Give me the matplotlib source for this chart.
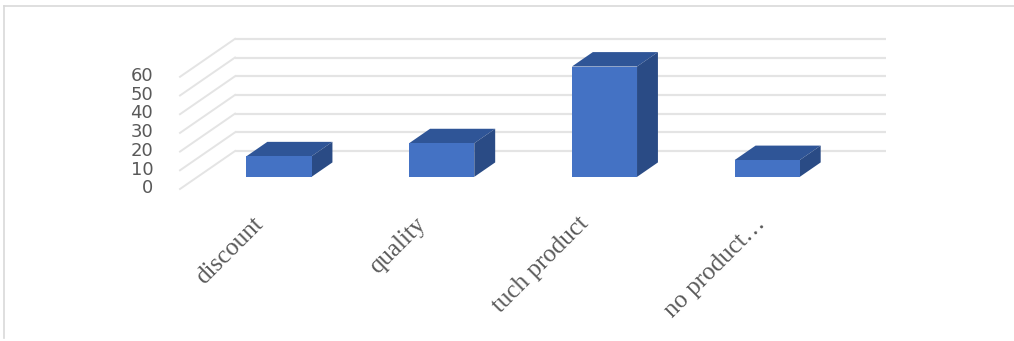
import matplotlib
matplotlib.use("Agg")
import matplotlib.pyplot as plt
from matplotlib.patches import Polygon
from matplotlib.lines import Line2D

categories = ["discount", "quality", "tuch product", "no product…"]
values = [11, 18, 59, 9]
y_ticks = [0, 10, 20, 30, 40, 50, 60]

# oblique projection of the 3-D box: shift per unit of depth
DX = 0.338   # in category units
DY = 20.3    # in value units
D0, D1 = 0.32, 0.70   # depth span occupied by the bars
BAR_W = 0.40

front_col = "#4472C4"
top_col = "#2F5597"
side_col = "#2A4B85"
grid_col = "#e4e4e4"
text_col = "#595959"

fig = plt.figure(figsize=(10.14, 3.41), dpi=100)
ax = fig.add_axes([0, 0, 1, 1])
ax.set_xlim(-180 / 162.75, (1014 - 180) / 162.75)
ax.set_ylim((189 - 341) / 1.87, 189 / 1.87)
ax.axis("off")

n = len(categories)

# gridlines: back wall and left wall
for v in y_ticks:
    ax.plot([DX, n + DX], [v + DY, v + DY], color=grid_col, lw=1.6, zorder=1,
            solid_capstyle="butt")
    ax.plot([0, DX], [v, v + DY], color=grid_col, lw=1.4, zorder=1)
    ax.text(-0.165, v + 0.4, str(v), ha="right", va="center", fontsize=13,
            color=text_col, family="DejaVu Sans")

# bars: front faces
centers = [i + 0.5 + D0 * DX for i in range(n)]
ax.bar(centers, values, width=BAR_W, bottom=D0 * DY, color=front_col,
       zorder=3, linewidth=0)

dd = D1 - D0
for cx, v in zip(centers, values):
    xl, xr = cx - BAR_W / 2, cx + BAR_W / 2
    b = D0 * DY
    top = Polygon([(xl, b + v), (xr, b + v), (xr + dd * DX, b + v + dd * DY),
                   (xl + dd * DX, b + v + dd * DY)], closed=True,
                  facecolor=top_col, edgecolor="none", zorder=2)
    side = Polygon([(xr, b), (xr, b + v), (xr + dd * DX, b + v + dd * DY),
                    (xr + dd * DX, b + dd * DY)], closed=True,
                   facecolor=side_col, edgecolor="none", zorder=2)
    ax.add_patch(top)
    ax.add_patch(side)

# category labels (the truncated one sits a little further right)
for i, lab in enumerate(categories):
    shift = 0.09 if lab.endswith("…") else 0.0
    ax.text(i + 0.5 - 0.06 + shift, -12.8, lab, rotation=45,
            rotation_mode="anchor", ha="right", va="top", fontsize=18,
            color=text_col, family="Liberation Serif")

# chart frame
fig.add_artist(Line2D([4 / 1014, 1], [1 - 6 / 341, 1 - 6 / 341],
                      transform=fig.transFigure, color="#d9d9d9", lw=1.2))
fig.add_artist(Line2D([4 / 1014, 4 / 1014], [1 - 6 / 341, 3 / 341],
                      transform=fig.transFigure, color="#d9d9d9", lw=1.2))

fig.savefig("out.png", dpi=100)
